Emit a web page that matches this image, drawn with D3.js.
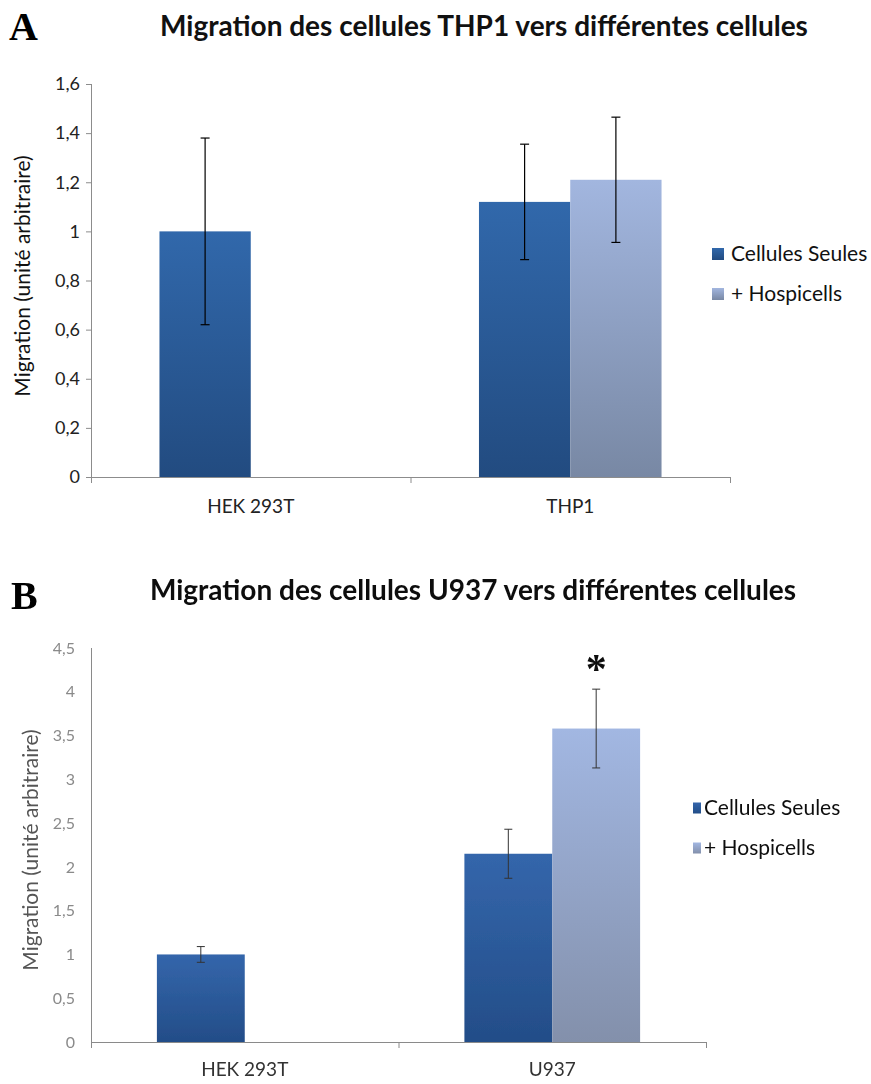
<!DOCTYPE html>
<html>
<head>
<meta charset="utf-8">
<script src="https://cdn.jsdelivr.net/npm/d3@7"></script>
<style>
  body { margin: 0; background: #fff; }
  svg { display: block; }
</style>
</head>
<body>
<script>
// panel A
const categoriesA = ["HEK 293T", "THP1"];
const seulesA = [1.0, 1.12];
const seulesErrA = [0.38, 0.235];
const hospA = [null, 1.21];
const hospErrA = [null, 0.255];
const ticksA = [0, 0.2, 0.4, 0.6, 0.8, 1, 1.2, 1.4, 1.6];

// panel B
const categoriesB = ["HEK 293T", "U937"];
const seulesB = [1.0, 2.15];
const seulesErrB = [0.09, 0.28];
const hospB = [null, 3.58];
const hospErrB = [null, 0.45];
const ticksB = [0, 0.5, 1, 1.5, 2, 2.5, 3, 3.5, 4, 4.5];

const seriesNames = ["Cellules Seules", "+ Hospicells"];
const frFmt = d => String(d).replace(".", ",");
const sans = "Lato, 'Open Sans', sans-serif";

let canvasW = 871;
let canvasH = 1084;

let svg = d3.select("body")
  .append("svg")
    .attr("width", canvasW)
    .attr("height", canvasH)
    .style("background-color", "#fff");

let defs = svg.append("defs");

function grad(id, top, bottom) {
  let g = defs.append("linearGradient")
    .attr("id", id)
    .attr("x1", 0).attr("y1", 0).attr("x2", 0).attr("y2", 1);
  g.append("stop").attr("offset", "0%").attr("stop-color", top);
  g.append("stop").attr("offset", "100%").attr("stop-color", bottom);
}
grad("darkA", "#3168ab", "#224b80");
grad("lightA", "#a2b6df", "#7888a4");
grad("darkB", "#3466ab", "#234d88");
grad("lightB", "#a2b7e2", "#8390ab");

defs.append("filter").attr("id", "soft")
  .append("feGaussianBlur").attr("stdDeviation", 0.55);

function drawPanel(p) {
  let g = svg.append("g");
  if (p.blur) g.attr("filter", "url(#soft)");

  let xScale = d3.scaleBand()
    .domain(p.categories)
    .range([p.left, p.right])
    .paddingInner(1.5 / 3.5)
    .paddingOuter(0.75 / 3.5);
  let xSub = d3.scaleBand()
    .domain(seriesNames)
    .range([0, xScale.bandwidth()]);
  let yScale = d3.scaleLinear()
    .domain([0, p.max])
    .range([p.bottom, p.top]);

  // y axis
  const yAxis = g.append("g")
    .attr("transform", "translate(" + p.left + ",0)")
    .call(d3.axisLeft(yScale).tickValues(p.ticks).tickFormat(frFmt).tickSize(p.yTick).tickSizeOuter(0));
  yAxis.select(".domain").attr("stroke", p.axisColor).attr("d", "M0.5," + yScale(p.max) + "V" + (p.bottom + 5));
  yAxis.selectAll(".tick line").attr("stroke", p.axisColor);
  yAxis.selectAll(".tick text")
    .attr("x", -p.tickGap)
    .attr("fill", p.tickColor)
    .attr("font-family", sans)
    .attr("font-size", p.tickSize);

  let rows = p.categories.map((c, i) => ({cat: c, i: i}));
  let series = [
    {name: seriesNames[0], vals: p.seules, errs: p.seulesErr, fill: p.darkFill},
    {name: seriesNames[1], vals: p.hosp, errs: p.hospErr, fill: p.lightFill}
  ];

  series.forEach(s => {
    let pts = rows.filter(r => s.vals[r.i] != null);
    g.selectAll(null)
      .data(pts)
      .enter()
      .append("rect")
        .attr("x", d => xScale(d.cat) + xSub(s.name))
        .attr("y", d => yScale(s.vals[d.i]))
        .attr("width", xSub.bandwidth())
        .attr("height", d => p.bottom - yScale(s.vals[d.i]))
        .attr("fill", s.fill);
  });

  // x axis line + boundary ticks
  g.append("line")
    .attr("x1", p.left).attr("x2", p.right)
    .attr("y1", p.bottom + 0.5).attr("y2", p.bottom + 0.5)
    .attr("stroke", p.axisColor);
  let bounds = [p.left].concat(p.categories.map(c => xScale(c) + xScale.bandwidth() + xScale.step() * xScale.paddingInner() / 2));
  bounds[bounds.length - 1] = p.right;
  g.selectAll(null)
    .data(bounds)
    .enter()
    .append("line")
      .attr("x1", d => d + 0.5).attr("x2", d => d + 0.5)
      .attr("y1", p.bottom).attr("y2", p.bottom + 6)
      .attr("stroke", p.axisColor);

  g.selectAll(null)
    .data(p.categories)
    .enter()
    .append("text")
      .attr("x", d => xScale(d) + xScale.bandwidth() / 2)
      .attr("y", p.bottom + p.catDy)
      .attr("text-anchor", "middle")
      .attr("font-family", sans)
      .attr("font-size", p.catSize)
      .attr("fill", p.catColor)
      .text(d => d);

  // error bars
  series.forEach(s => {
    let pts = rows.filter(r => s.vals[r.i] != null);
    let cx = d => xScale(d.cat) + xSub(s.name) + xSub.bandwidth() / 2;
    let eb = g.selectAll(null).data(pts).enter().append("g")
      .attr("stroke", p.errColor)
      .attr("stroke-width", p.errWidth);
    eb.append("line")
      .attr("x1", cx).attr("x2", cx)
      .attr("y1", d => yScale(s.vals[d.i] + s.errs[d.i]))
      .attr("y2", d => yScale(s.vals[d.i] - s.errs[d.i]));
    eb.append("line")
      .attr("x1", d => cx(d) - p.cap).attr("x2", d => cx(d) + p.cap)
      .attr("y1", d => yScale(s.vals[d.i] + s.errs[d.i]))
      .attr("y2", d => yScale(s.vals[d.i] + s.errs[d.i]));
    eb.append("line")
      .attr("x1", d => cx(d) - p.cap).attr("x2", d => cx(d) + p.cap)
      .attr("y1", d => yScale(s.vals[d.i] - s.errs[d.i]))
      .attr("y2", d => yScale(s.vals[d.i] - s.errs[d.i]));
  });

  // asterisk for significance
  if (p.star != null) {
    let s = series[1];
    g.append("text")
      .attr("x", xScale(p.categories[p.star]) + xSub(s.name) + xSub.bandwidth() / 2)
      .attr("y", yScale(s.vals[p.star] + s.errs[p.star]) - 6)
      .attr("text-anchor", "middle")
      .attr("font-family", "'Liberation Serif', serif")
      .attr("font-weight", "bold")
      .attr("font-size", "42px")
      .attr("fill", "#111")
      .text("*");
  }

  // y title
  g.append("text")
    .attr("text-anchor", "middle")
    .attr("font-family", sans)
    .attr("font-size", p.yLabelSize)
    .attr("fill", p.yLabelColor)
    .attr("transform", "translate(" + p.yLabelX + "," + p.yLabelY + ") rotate(-90)")
    .text("Migration (unité arbitraire)");

  // chart title
  g.append("text")
    .attr("x", p.titleX)
    .attr("y", p.titleY)
    .attr("text-anchor", "middle")
    .attr("font-family", sans)
    .attr("font-weight", "bold")
    .attr("font-size", p.titleSize)
    .attr("fill", "#111")
    .text(p.title);

  // legend
  let leg = g.selectAll(null)
    .data(series)
    .enter()
    .append("g")
      .attr("transform", (d, i) => "translate(" + p.legX + "," + (p.legY + i * 40) + ")");
  leg.append("rect")
    .attr("x", 0).attr("y", -p.legSqH / 2)
    .attr("width", p.legSqW).attr("height", p.legSqH)
    .attr("fill", d => d.fill);
  leg.append("text")
    .attr("x", p.legTextDx)
    .attr("y", 0)
    .attr("dy", "0.35em")
    .attr("font-family", sans)
    .attr("font-size", p.legSize)
    .attr("fill", "#111")
    .text(d => d.name);

  // panel letter
  svg.append("text")
    .attr("x", p.letterX)
    .attr("y", p.letterY)
    .attr("font-family", "'Liberation Serif', 'Times New Roman', serif")
    .attr("font-weight", "bold")
    .attr("font-size", "40px")
    .attr("fill", "#000")
    .text(p.letter);
}

drawPanel({
  letter: "A", letterX: 9, letterY: 40,
  title: "Migration des cellules THP1 vers différentes cellules",
  titleX: 484, titleY: 36, titleSize: "28px",
  categories: categoriesA, seules: seulesA, seulesErr: seulesErrA, hosp: hospA, hospErr: hospErrA,
  ticks: ticksA, max: 1.6,
  left: 91, right: 730, top: 84, bottom: 477,
  axisColor: "#8c8c8c", tickColor: "#222", tickSize: "18px", yTick: 5, tickGap: 11,
  catColor: "#222", catSize: "19px", catDy: 36,
  darkFill: "url(#darkA)", lightFill: "url(#lightA)",
  errColor: "#000", errWidth: 1.2, cap: 4.5,
  yLabelX: 30, yLabelY: 276, yLabelSize: "21px", yLabelColor: "#111",
  legX: 712, legY: 254, legSqW: 12, legSqH: 12, legTextDx: 19, legSize: "21px",
  star: null, blur: false
});

drawPanel({
  letter: "B", letterX: 11, letterY: 609,
  title: "Migration des cellules U937 vers différentes cellules",
  titleX: 473, titleY: 600, titleSize: "28px",
  categories: categoriesB, seules: seulesB, seulesErr: seulesErrB, hosp: hospB, hospErr: hospErrB,
  ticks: ticksB, max: 4.5,
  left: 91, right: 706, top: 648, bottom: 1042,
  axisColor: "#8a8a8a", tickColor: "#8a8a8a", tickSize: "16px", yTick: 0, tickGap: 16,
  catColor: "#333", catSize: "19px", catDy: 34,
  darkFill: "url(#darkB)", lightFill: "url(#lightB)",
  errColor: "#333", errWidth: 1, cap: 4,
  yLabelX: 38, yLabelY: 850, yLabelSize: "21px", yLabelColor: "#555",
  legX: 693, legY: 808, legSqW: 8, legSqH: 11, legTextDx: 11, legSize: "21px",
  star: 1, blur: true
});
</script>
</body>
</html>
